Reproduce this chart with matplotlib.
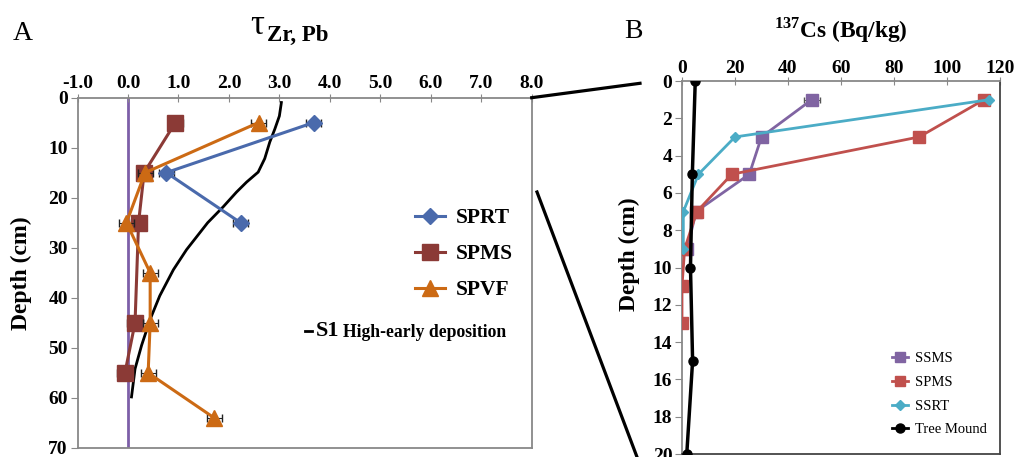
import matplotlib.pyplot as plt
from matplotlib.lines import Line2D

plt.rcParams['font.family'] = ['Liberation Serif', 'DejaVu Serif']
plt.rcParams['mathtext.fontset'] = 'custom'
plt.rcParams['mathtext.rm'] = 'Liberation Serif'
plt.rcParams['mathtext.bf'] = 'Liberation Serif:bold'

# ---- Panel A data: tau Zr,Pb vs depth ----
sprt_depth = [5, 15, 25]
sprt_tau = [3.68, 0.76, 2.23]
spms_depth = [5, 15, 25, 45, 55]
spms_tau = [0.94, 0.32, 0.21, 0.14, -0.06]
spvf_depth = [5, 15, 25, 35, 45, 55, 64]
spvf_tau = [2.59, 0.34, -0.03, 0.44, 0.44, 0.40, 1.71]
tau_err = 0.15

s1_depth = [1, 3.7, 6.3, 8.9, 12.2, 14.9, 16.9, 18.9, 21.8, 25,
            30.4, 34.4, 39.6, 44.3, 49.5, 54.2, 59.8]
s1_tau = [3.04, 3.0, 2.91, 2.81, 2.71, 2.58, 2.35, 2.15, 1.89, 1.58,
          1.16, 0.90, 0.63, 0.44, 0.27, 0.14, 0.07]

a_ticks = [-1.0, 0.0, 1.0, 2.0, 3.0, 4.0, 5.0, 6.0, 7.0, 8.0]
a_depth_ticks = [0, 10, 20, 30, 40, 50, 60, 70]

# ---- Panel B data: 137Cs vs depth ----
ssms_depth = [1, 3, 5, 7, 9]
ssms_cs = [49, 30, 25.4, 5.3, 2]
ssms_err = [3, 0, 0, 0, 0]
spmsb_depth = [1, 3, 5, 7, 9, 11, 13]
spmsb_cs = [114, 89.5, 18.8, 5.6, 1, 0, 0]
spmsb_err = [0, 2, 0, 0, 0, 0, 0]
ssrt_depth = [1, 3, 5, 7, 9]
ssrt_cs = [116, 20, 6.2, 0.5, 0.5]
tree_depth = [0, 5, 10, 15, 20]
tree_cs = [5, 3.9, 3.2, 4, 1.8]

b_ticks = [0, 20, 40, 60, 80, 100, 120]
b_depth_ticks = [0, 2, 4, 6, 8, 10, 12, 14, 16, 18, 20]

W, H = 1017, 457
fig = plt.figure(figsize=(W / 100, H / 100), dpi=100)

# ================= Panel A =================
ax = fig.add_axes([77.5 / W, 9 / H, 454.2 / W, 350.5 / H])
ax.axvline(0, color='#7d5fa8', lw=2, zorder=1)
ax.plot(s1_tau, s1_depth, color='black', lw=2, zorder=2)

ax.errorbar(sprt_tau, sprt_depth, xerr=tau_err, color='#4a6aac', lw=2.2,
            marker='D', ms=8, ecolor='#222222', elinewidth=0.8, capsize=3, zorder=3)
ax.errorbar(spms_tau, spms_depth, xerr=tau_err, color='#8b3a36', lw=2.2,
            marker='s', ms=11, ecolor='#222222', elinewidth=0.8, capsize=3, zorder=3)
ax.errorbar(spvf_tau, spvf_depth, xerr=tau_err, color='#cc6a14', lw=2.2,
            marker='^', ms=11, ecolor='#222222', elinewidth=0.8, capsize=3, zorder=4)

ax.set_xlim(-1, 8)
ax.set_ylim(70, 0)
ax.xaxis.tick_top()
ax.set_xticks(a_ticks)
ax.set_xticklabels(['%.1f' % t for t in a_ticks])
ax.set_yticks(a_depth_ticks)
ax.tick_params(axis='x', direction='inout', length=6, color='#888888', pad=1)
ax.tick_params(axis='y', direction='out', length=5, color='#888888', pad=2)
for lab in ax.get_xticklabels() + ax.get_yticklabels():
    lab.set_fontsize(14)
    lab.set_fontweight('bold')
for sp in ax.spines.values():
    sp.set_color('#888888')
    sp.set_linewidth(1.3)
ax.set_ylabel('Depth (cm)', fontsize=17, fontweight='bold')
ax.yaxis.set_label_coords(-0.10, 0.50)

handles = [
    Line2D([], [], color='#4a6aac', lw=2.2, marker='D', ms=8),
    Line2D([], [], color='#8b3a36', lw=2.2, marker='s', ms=11),
    Line2D([], [], color='#cc6a14', lw=2.2, marker='^', ms=11),
]
ax.legend(handles, ['SPRT', 'SPMS', 'SPVF'], loc='upper left',
          bbox_to_anchor=(0.70, 0.74), frameon=False, handlelength=1.4,
          handletextpad=0.5, labelspacing=0.74, prop={'size': 15.5, 'weight': 'bold'})
ax.plot([0.50, 0.517], [0.335, 0.335], transform=ax.transAxes,
        color='black', lw=2, clip_on=False)
ax.text(0.525, 0.333, 'S1', transform=ax.transAxes, fontsize=16,
        fontweight='bold', va='center', ha='left')
ax.text(0.585, 0.330, 'High-early deposition', transform=ax.transAxes,
        fontsize=12.7, fontweight='bold', va='center', ha='left')

fig.text(13 / W, 1 - 34 / H, 'A', fontsize=20, va='center', ha='left')
fig.text(250 / W, 1 - 34 / H, '\u03c4', fontsize=25, va='baseline', ha='left')
fig.text(267 / W, 1 - 41 / H, 'Zr, Pb', fontsize=16.5, fontweight='bold',
         va='baseline', ha='left')

# ================= Panel B =================
bx = fig.add_axes([682 / W, 3 / H, 318 / W, 373 / H])
bx.plot(tree_cs, tree_depth, color='black', lw=2.5, marker='o', ms=6.5, zorder=5)
bx.errorbar(ssms_cs, ssms_depth, xerr=ssms_err, color='#8064a2', lw=2,
            marker='s', ms=8, ecolor='#555555', elinewidth=0.7, capsize=2, zorder=3)
bx.errorbar(spmsb_cs, spmsb_depth, xerr=spmsb_err, color='#c0504d', lw=2,
            marker='s', ms=8, ecolor='#555555', elinewidth=0.7, capsize=2, zorder=3)
bx.plot(ssrt_cs, ssrt_depth, color='#4bacc6', lw=2, marker='D', ms=5.5, zorder=4)

bx.set_xlim(0, 120)
bx.set_ylim(20, 0)
bx.xaxis.tick_top()
bx.set_xticks(b_ticks)
bx.set_yticks(b_depth_ticks)
bx.tick_params(axis='x', direction='inout', length=6, color='#888888', pad=0)
bx.tick_params(axis='y', direction='out', length=5, color='#888888', pad=2)
for lab in bx.get_xticklabels() + bx.get_yticklabels():
    lab.set_fontsize(14)
    lab.set_fontweight('bold')
for sp in bx.spines.values():
    sp.set_color('#888888')
    sp.set_linewidth(1.3)
bx.spines['right'].set_color('#444444')
bx.spines['bottom'].set_color('#444444')
bx.set_ylabel('Depth (cm)', fontsize=17, fontweight='bold')
bx.yaxis.set_label_coords(-0.132, 0.535)

bhandles = [
    Line2D([], [], color='#8064a2', lw=2, marker='s', ms=7.5),
    Line2D([], [], color='#c0504d', lw=2, marker='s', ms=7.5),
    Line2D([], [], color='#4bacc6', lw=2, marker='D', ms=5),
    Line2D([], [], color='black', lw=2, marker='o', ms=6.5),
]
bx.legend(bhandles, ['SSMS', 'SPMS', 'SSRT', 'Tree Mound'], loc='lower right',
          bbox_to_anchor=(1.0, 0.012), frameon=False, handlelength=1.1,
          handletextpad=0.45, labelspacing=0.72, prop={'size': 10.5})

fig.text(624 / W, 1 - 31 / H, 'B', fontsize=20, va='center', ha='left')
fig.text(841 / W, 1 - 30 / H, r'$^{\mathbf{137}}$Cs (Bq/kg)', fontsize=16.8,
         fontweight='bold', va='center', ha='center')

# connector lines between the panels (figure pixel positions)
fig.add_artist(Line2D([531.7 / W, 640 / W], [1 - 97.7 / H, 1 - 83.3 / H],
                      color='black', lw=2.3))
fig.add_artist(Line2D([537 / W, 637 / W], [1 - 192 / H, 1 - 457 / H],
                      color='black', lw=2.3))

fig.savefig('out.png', dpi=100)
